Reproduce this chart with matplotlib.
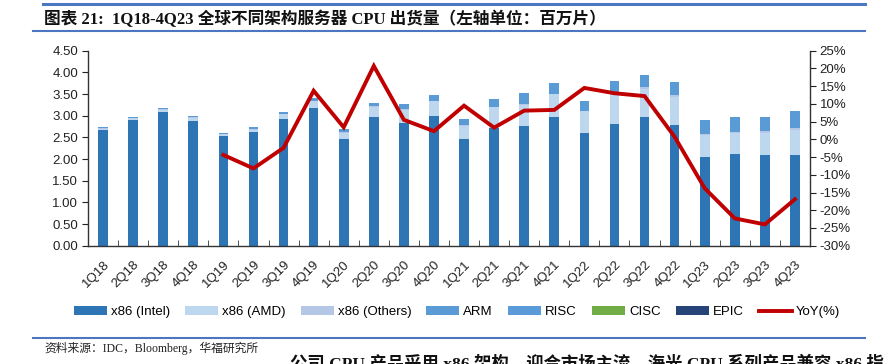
import numpy as np
import matplotlib
matplotlib.use("Agg")
import matplotlib.pyplot as plt
from matplotlib.lines import Line2D

plt.rcParams['font.family'] = ['Liberation Sans', 'Noto Sans CJK SC', 'DejaVu Sans']

quarters = ['1Q18', '2Q18', '3Q18', '4Q18', '1Q19', '2Q19', '3Q19', '4Q19',
            '1Q20', '2Q20', '3Q20', '4Q20', '1Q21', '2Q21', '3Q21', '4Q21',
            '1Q22', '2Q22', '3Q22', '4Q22', '1Q23', '2Q23', '3Q23', '4Q23']

# shipments, millions of units
x86_intel = [2.67, 2.90, 3.09, 2.88, 2.53, 2.62, 2.92, 3.18,
             2.46, 2.98, 2.84, 2.99, 2.46, 2.71, 2.76, 2.98,
             2.59, 2.82, 2.96, 2.79, 2.05, 2.11, 2.09, 2.09]
x86_amd = [0.03, 0.04, 0.05, 0.07, 0.04, 0.06, 0.12, 0.15,
           0.15, 0.23, 0.29, 0.34, 0.31, 0.48, 0.49, 0.51,
           0.51, 0.67, 0.66, 0.64, 0.50, 0.48, 0.52, 0.59]
x86_others = [0.01, 0.01, 0.01, 0.01, 0.01, 0.01, 0.01, 0.02,
              0.01, 0.01, 0.03, 0.02, 0.02, 0.02, 0.03, 0.02,
              0.02, 0.02, 0.05, 0.04, 0.03, 0.03, 0.03, 0.03]
arm = [0.01, 0.01, 0.02, 0.03, 0.02, 0.03, 0.03, 0.05,
       0.06, 0.07, 0.09, 0.11, 0.13, 0.16, 0.23, 0.23,
       0.22, 0.29, 0.26, 0.29, 0.30, 0.34, 0.33, 0.40]
risc = [0.01, 0.01, 0.01, 0.01, 0.01, 0.01, 0.01, 0.01,
        0.01, 0.01, 0.01, 0.01, 0.01, 0.01, 0.01, 0.01,
        0.01, 0.01, 0.01, 0.01, 0.01, 0.01, 0.01, 0.01]
cisc = [0.0] * 24
epic = [0.0, 0.0, 0.0, 0.0, 0.0, 0.0, 0.0, 0.0,
        0.0, 0.0, 0.01, 0.0, 0.0, 0.0, 0.0, 0.0,
        0.0, 0.0, 0.01, 0.0, 0.0, 0.0, 0.0, 0.0]

# YoY growth, %, starting 1Q19
yoy = [np.nan, np.nan, np.nan, np.nan, -4.4, -8.2, -2.4, 13.7,
       3.4, 20.7, 5.5, 2.3, 9.5, 3.3, 8.1, 8.3,
       14.5, 13.0, 12.2, 0.7, -13.8, -22.3, -24.0, -16.9]

series = [('x86 (Intel)', x86_intel, '#2E75B6'),
          ('x86 (AMD)', x86_amd, '#BDD7EE'),
          ('x86 (Others)', x86_others, '#B4C7E7'),
          ('ARM', arm, '#5B9BD5'),
          ('RISC', risc, '#5A9AD8'),
          ('CISC', cisc, '#70AD47'),
          ('EPIC', epic, '#264478')]

W, H = 884, 364
fig = plt.figure(figsize=(W / 100, H / 100), dpi=100)
ax = fig.add_axes([88 / W, 1 - 245.7 / H, (810 - 88) / W, 195 / H])
ax2 = ax.twinx()

x = np.arange(len(quarters))
bottom = np.zeros(len(quarters))
handles = []
for name, vals, col in series:
    vals = np.array(vals)
    b = ax.bar(x, vals, 0.32, bottom=bottom, color=col, label=name, zorder=2)
    bottom += vals
    handles.append(b)

ax2.plot(x, yoy, color='#C00000', lw=2.8, solid_joinstyle='miter', label='YoY(%)')
handles.append(Line2D([], [], color='#C00000', lw=2.8))

ax.set_xlim(-0.5, len(quarters) - 0.5)
ax.set_ylim(0, 4.5)
ax.set_yticks(np.arange(0, 4.51, 0.5))
ax.set_yticklabels([f'{v:.2f}' for v in np.arange(0, 4.51, 0.5)])
ax2.set_ylim(-30, 25)
ax2.set_yticks(np.arange(-30, 26, 5))
ax2.set_yticklabels([f'{v}%' for v in range(-30, 26, 5)])

ax.set_xticks(x)
ax.set_xticklabels(quarters, rotation=45, ha='right', rotation_mode='anchor')
ax.set_xticks(np.arange(-0.5, len(quarters), 1), minor=True)
ax.tick_params(axis='x', which='major', length=0, pad=9, labelsize=9.5, colors='#222222')
ax.tick_params(axis='x', which='minor', length=4, direction='in', color='#333333')
ax.tick_params(axis='y', length=4, labelsize=9.5, colors='#222222', pad=3)
ax2.tick_params(axis='y', length=4, labelsize=9.5, colors='#222222', pad=3)

for a in (ax, ax2):
    a.spines['top'].set_visible(False)
    for s in ('left', 'right', 'bottom'):
        a.spines[s].set_color('#333333')
        a.spines[s].set_linewidth(1.0)
ax.spines['right'].set_visible(False)
ax2.spines['left'].set_visible(False)
ax2.spines['bottom'].set_visible(False)

labels = [s[0] for s in series] + ['YoY(%)']
fig.legend(handles, labels, loc='center', bbox_to_anchor=(457 / W, 1 - 312 / H),
           ncol=8, frameon=False, fontsize=9.5, handlelength=2.5, handleheight=0.6,
           handletextpad=0.3, columnspacing=1.15)

# header / footer decoration
blue = '#4A76C2'
fig.add_artist(Line2D([43 / W, 865 / W], [1 - 4 / H, 1 - 4 / H], color=blue, lw=2.2))
fig.add_artist(Line2D([33 / W, 865 / W], [1 - 31 / H, 1 - 31 / H], color=blue, lw=1.5))
fig.add_artist(Line2D([33 / W, 865 / W], [1 - 338 / H, 1 - 338 / H], color=blue, lw=1.5))

serif_cjk = ['Liberation Serif', 'Noto Sans CJK SC', 'DejaVu Sans']
fig.text(44 / W, 1 - 19 / H, '图表 21:  1Q18-4Q23 全球不同架构服务器 CPU 出货量（左轴单位：百万片）',
         family=serif_cjk, fontsize=12, fontweight='bold',
         va='center', ha='left', color='#111111')
fig.text(44 / W, 1 - 348 / H, '资料来源：IDC，Bloomberg，华福研究所',
         family=serif_cjk, fontsize=8.5,
         va='center', ha='left', color='#222222')
fig.text(290 / W, 1 - 355 / H, '公司 CPU 产品采用 x86 架构，迎合市场主流。海光 CPU 系列产品兼容 x86 指',
         family=serif_cjk, fontsize=12.5, fontweight='bold',
         va='top', ha='left', color='#111111')

fig.savefig('out.png', dpi=100)
